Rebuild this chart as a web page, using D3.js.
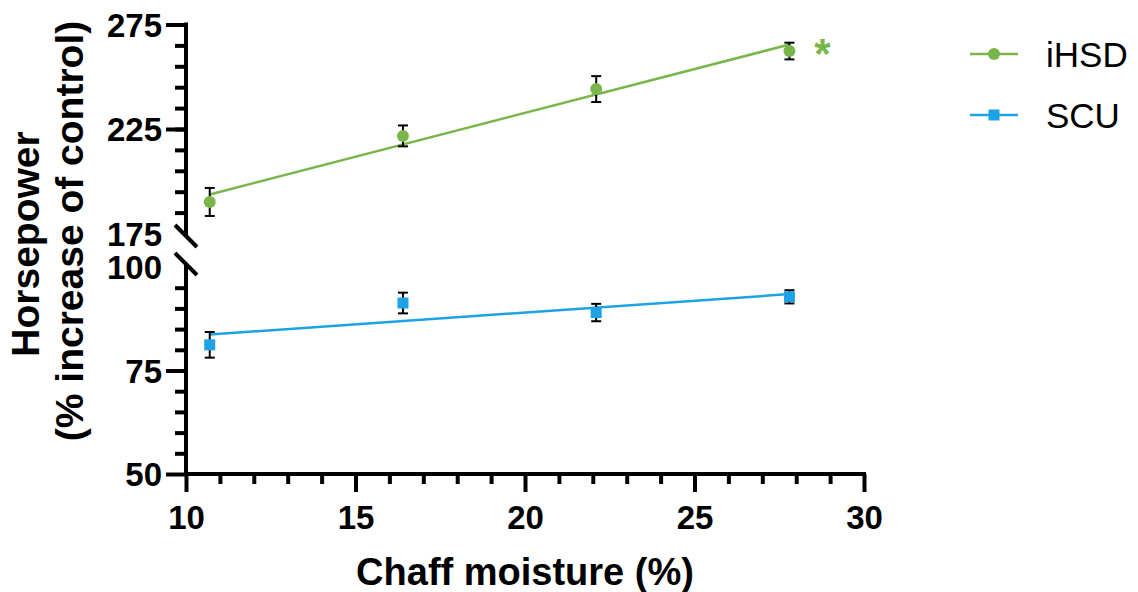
<!DOCTYPE html>
<html>
<head>
<meta charset="utf-8">
<script src="https://cdn.jsdelivr.net/npm/d3@7"></script>
<style>
  body { margin: 0; background: #fff; }
  svg text { font-family: "Liberation Sans", Arial, sans-serif; }
</style>
</head>
<body>
<div id="chart"></div>
<script>
const width = 1138;
const height = 592;

// chaff moisture (%) for each measurement
const moisture = [10.7, 16.4, 22.1, 27.8];
const ihsdMean = [190.1, 221.7, 244.1, 262.3];
const ihsdErr = [6.7, 5, 6.2, 4];
const scuMean = [81.2, 91.3, 89.0, 92.8];
const scuErr = [3.1, 2.5, 2.1, 1.6];

const upperTicks = [275, 225, 175];
const lowerTicks = [100, 75, 50];
const xTicks = [10, 15, 20, 25, 30];

const green = '#79b54b';
const blue = '#1da2e6';

const svg = d3.select('#chart')
  .append('svg')
  .attr('width', width)
  .attr('height', height);

const x = d3.scaleLinear().domain([10, 30]).range([186, 864]);
const yTop = d3.scaleLinear().domain([175, 275]).range([233.5, 24.5]);
const yBot = d3.scaleLinear().domain([50, 100]).range([474, 267]);

// least squares fit, drawn over the range of the data
function fit(xs, ys) {
  const mx = d3.mean(xs), my = d3.mean(ys);
  let sxy = 0, sxx = 0;
  xs.forEach((v, i) => { sxy += (v - mx) * (ys[i] - my); sxx += (v - mx) * (v - mx); });
  const b = sxy / sxx;
  const a = my - b * mx;
  const x0 = d3.min(xs), x1 = d3.max(xs);
  return [[x0, a + b * x0], [x1, a + b * x1]];
}

// ---- axes ----
const axisG = svg.append('g');

function styleAxis(g) {
  g.select('.domain').remove();
  g.selectAll('.tick line').attr('stroke', '#000').attr('stroke-width', 4);
  g.selectAll('.tick text')
    .attr('fill', '#000')
    .style('font-size', '33px')
    .style('font-weight', 'bold');
}

// upper y segment
const upMinor = d3.range(185, 275, 10);
axisG.append('g')
  .attr('transform', 'translate(186,0)')
  .call(d3.axisLeft(yTop).tickValues(upMinor).tickSize(11).tickFormat(''))
  .call(styleAxis);
axisG.append('g')
  .attr('transform', 'translate(186,0)')
  .call(d3.axisLeft(yTop).tickValues(upperTicks).tickSize(20).tickPadding(4))
  .call(styleAxis)
  .call(g => g.selectAll('.tick line').filter(d => d === 175).remove())
  .call(g => g.selectAll('.tick text').attr('dy', '0.36em'));

// lower y segment
const lowMinor = [95, 90, 85, 80, 70, 65, 60, 55];
axisG.append('g')
  .attr('transform', 'translate(186,0)')
  .call(d3.axisLeft(yBot).tickValues(lowMinor).tickSize(11).tickFormat(''))
  .call(styleAxis);
axisG.append('g')
  .attr('transform', 'translate(186,0)')
  .call(d3.axisLeft(yBot).tickValues(lowerTicks).tickSize(20).tickPadding(4))
  .call(styleAxis)
  .call(g => g.selectAll('.tick line').filter(d => d === 100).remove())
  .call(g => g.selectAll('.tick text').attr('dy', '0.36em'));

// x axis
axisG.append('g')
  .attr('transform', 'translate(0,474)')
  .call(d3.axisBottom(x).tickValues(d3.range(11, 30, 1).filter(v => v % 5 !== 0)).tickSize(10).tickFormat(''))
  .call(styleAxis);
axisG.append('g')
  .attr('transform', 'translate(0,474)')
  .call(d3.axisBottom(x).tickValues(xTicks).tickSize(18).tickPadding(14))
  .call(styleAxis);

// axis lines with the break
const yBreakTop = 236, yBreakBot = 264;
axisG.append('line')
  .attr('x1', 186).attr('x2', 186)
  .attr('y1', yTop(275) - 2).attr('y2', yBreakTop)
  .attr('stroke', '#000').attr('stroke-width', 4);
axisG.append('line')
  .attr('x1', 186).attr('x2', 186)
  .attr('y1', yBreakBot).attr('y2', 476)
  .attr('stroke', '#000').attr('stroke-width', 4);
axisG.append('line')
  .attr('x1', 184).attr('x2', x(30) + 2)
  .attr('y1', 474).attr('y2', 474)
  .attr('stroke', '#000').attr('stroke-width', 4);
[yBreakTop, yBreakBot].forEach(yb => {
  axisG.append('line')
    .attr('x1', 175).attr('y1', yb - 11)
    .attr('x2', 197).attr('y2', yb + 11)
    .attr('stroke', '#000').attr('stroke-width', 4);
});

// axis titles
svg.append('text')
  .attr('x', (x(10) + x(30)) / 2)
  .attr('y', 585)
  .attr('text-anchor', 'middle')
  .style('font-size', '38px')
  .style('font-weight', 'bold')
  .text('Chaff moisture (%)');

const yTitle = svg.append('g').attr('transform', 'rotate(-90)');
yTitle.append('text')
  .attr('x', -244).attr('y', 39)
  .attr('text-anchor', 'middle')
  .style('font-size', '39px')
  .style('font-weight', 'bold')
  .text('Horsepower');
yTitle.append('text')
  .attr('x', -231).attr('y', 83)
  .attr('text-anchor', 'middle')
  .style('font-size', '39px')
  .style('font-weight', 'bold')
  .text('(% increase of control)');

// ---- series ----
function drawSeries(means, errs, y, color, shape) {
  const g = svg.append('g');
  const pts = moisture.map((m, i) => ({ x: m, y: means[i], e: errs[i] }));
  const line = fit(moisture, means);
  g.append('line')
    .attr('x1', x(line[0][0])).attr('y1', y(line[0][1]))
    .attr('x2', x(line[1][0])).attr('y2', y(line[1][1]))
    .attr('stroke', color).attr('stroke-width', 2.5);

  const eb = g.selectAll('g.err').data(pts).enter().append('g').attr('class', 'err');
  eb.append('line')
    .attr('x1', d => x(d.x)).attr('x2', d => x(d.x))
    .attr('y1', d => y(d.y - d.e)).attr('y2', d => y(d.y + d.e))
    .attr('stroke', '#000').attr('stroke-width', 2);
  [1, -1].forEach(s => {
    eb.append('line')
      .attr('x1', d => x(d.x) - 5).attr('x2', d => x(d.x) + 5)
      .attr('y1', d => y(d.y + s * d.e)).attr('y2', d => y(d.y + s * d.e))
      .attr('stroke', '#000').attr('stroke-width', 2);
  });

  if (shape === 'circle') {
    g.selectAll('circle').data(pts).enter().append('circle')
      .attr('cx', d => x(d.x)).attr('cy', d => y(d.y))
      .attr('r', 6).attr('fill', color);
  } else {
    g.selectAll('rect').data(pts).enter().append('rect')
      .attr('x', d => x(d.x) - 5.5).attr('y', d => y(d.y) - 5.5)
      .attr('width', 11).attr('height', 11).attr('fill', color);
  }
}

drawSeries(ihsdMean, ihsdErr, yTop, green, 'circle');
drawSeries(scuMean, scuErr, yBot, blue, 'square');

// significance mark next to the last iHSD point
svg.append('text')
  .attr('x', x(moisture[3]) + 33)
  .attr('y', yTop(ihsdMean[3]) + 17)
  .attr('text-anchor', 'middle')
  .attr('fill', green)
  .style('font-size', '42px')
  .style('font-weight', 'bold')
  .text('*');

// ---- legend ----
const legend = [
  { name: 'iHSD', color: green, shape: 'circle', y: 54 },
  { name: 'SCU', color: blue, shape: 'square', y: 115 }
];
const lg = svg.selectAll('g.legend').data(legend).enter().append('g')
  .attr('class', 'legend')
  .attr('transform', d => 'translate(0,' + d.y + ')');
lg.append('line')
  .attr('x1', 970).attr('x2', 1018)
  .attr('stroke', d => d.color).attr('stroke-width', 2.5);
lg.filter(d => d.shape === 'circle').append('circle')
  .attr('cx', 994).attr('r', 6).attr('fill', d => d.color);
lg.filter(d => d.shape === 'square').append('rect')
  .attr('x', 988.5).attr('y', -5.5).attr('width', 11).attr('height', 11)
  .attr('fill', d => d.color);
lg.append('text')
  .attr('x', 1046).attr('dy', '0.36em')
  .style('font-size', '35px')
  .attr('fill', '#000')
  .text(d => d.name);
</script>
</body>
</html>
